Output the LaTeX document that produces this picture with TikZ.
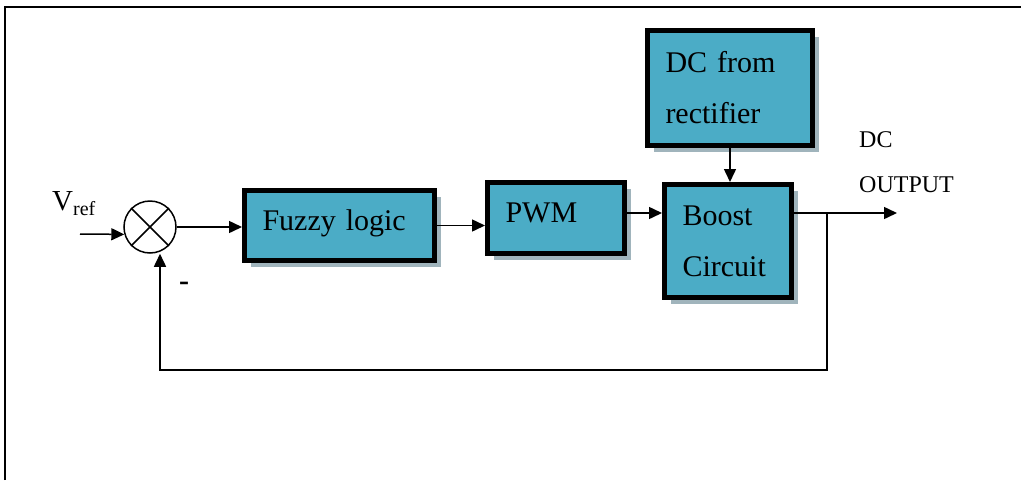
\documentclass[tikz,border=0pt]{standalone}
\usepackage{fontspec}
\setmainfont{Liberation Serif}
\usetikzlibrary{arrows.meta,shadows}
\definecolor{boxblue}{RGB}{75,172,198}
\definecolor{shadowgray}{RGB}{160,180,188}

\begin{document}
\begin{tikzpicture}[x=1pt, y=-1pt,
  blk/.style={draw=black, line width=5pt, fill=boxblue, align=left,
    inner xsep=18pt, inner ysep=0pt, font=\fontsize{30}{51}\selectfont,
    drop shadow={shadow xshift=6pt, shadow yshift=-6pt, fill=shadowgray, opacity=1}},
  sig/.style={line width=1.5pt, -{Triangle[length=13pt, width=12pt]}},
  wire/.style={line width=1.5pt}]
  \useasboundingbox (0,0) rectangle (1021,480);

  % Frame
  \draw[line width=2pt] (5,480) -- (5,7) -- (1021,7);

  % Summing junction
  \node[circle, draw, line width=1.5pt, minimum size=52pt, inner sep=0pt] (sum) at (150,227) {};
  \draw[wire] (sum.north west) -- (sum.south east) (sum.north east) -- (sum.south west);

  % Blocks
  \node[blk, text width=154pt, minimum height=70pt, text depth=11pt] (fuzzy) at (339.5,225.5) {Fuzzy logic};
  \node[blk, text width=101pt, minimum height=71pt, text depth=11pt] (pwm) at (556,218) {PWM};
  \node[blk, text width=91pt, minimum height=113pt] (boost) at (728,241) {Boost\\Circuit};
  \node[blk, text width=129pt, minimum height=115pt] (dc) at (730,88) {DC from\\rectifier};

  % Labels
  \node[anchor=base west, inner sep=0pt, font=\fontsize{29}{29}\selectfont] (vref) at (52,210)
    {V\raisebox{-5pt}{\fontsize{20}{20}\selectfont ref}};
  \node[font=\fontsize{30}{30}\selectfont\bfseries] (minus) at (184,286) {-};
  \node[anchor=north west, inner sep=0pt, align=left, font=\fontsize{24}{45}\selectfont] (dcout) at (859,131)
    {DC\\OUTPUT};

  % Signal paths
  \coordinate (vin) at (80,234);
  \coordinate (out) at (897,213);
  \coordinate (tap) at (827,213);
  \coordinate (fb) at (160,370);
  \draw[sig] (vin) -- (sum.196);
  \draw[sig] (sum.east) -- (sum.east -| fuzzy.west);
  \draw[sig] (fuzzy.east) -- (fuzzy.east -| pwm.west);
  \draw[sig] ([yshift=5pt]pwm.east) -- ([yshift=5pt]pwm.east -| boost.west);
  \draw[sig] (dc.south) -- (dc.south |- boost.north);
  \draw[sig] ([yshift=28pt]boost.east) -- (out);

  % Feedback loop
  \draw[sig] (tap) -- (tap |- fb) -- (fb) -- (fb |- sum.south);
\end{tikzpicture}
\end{document}
